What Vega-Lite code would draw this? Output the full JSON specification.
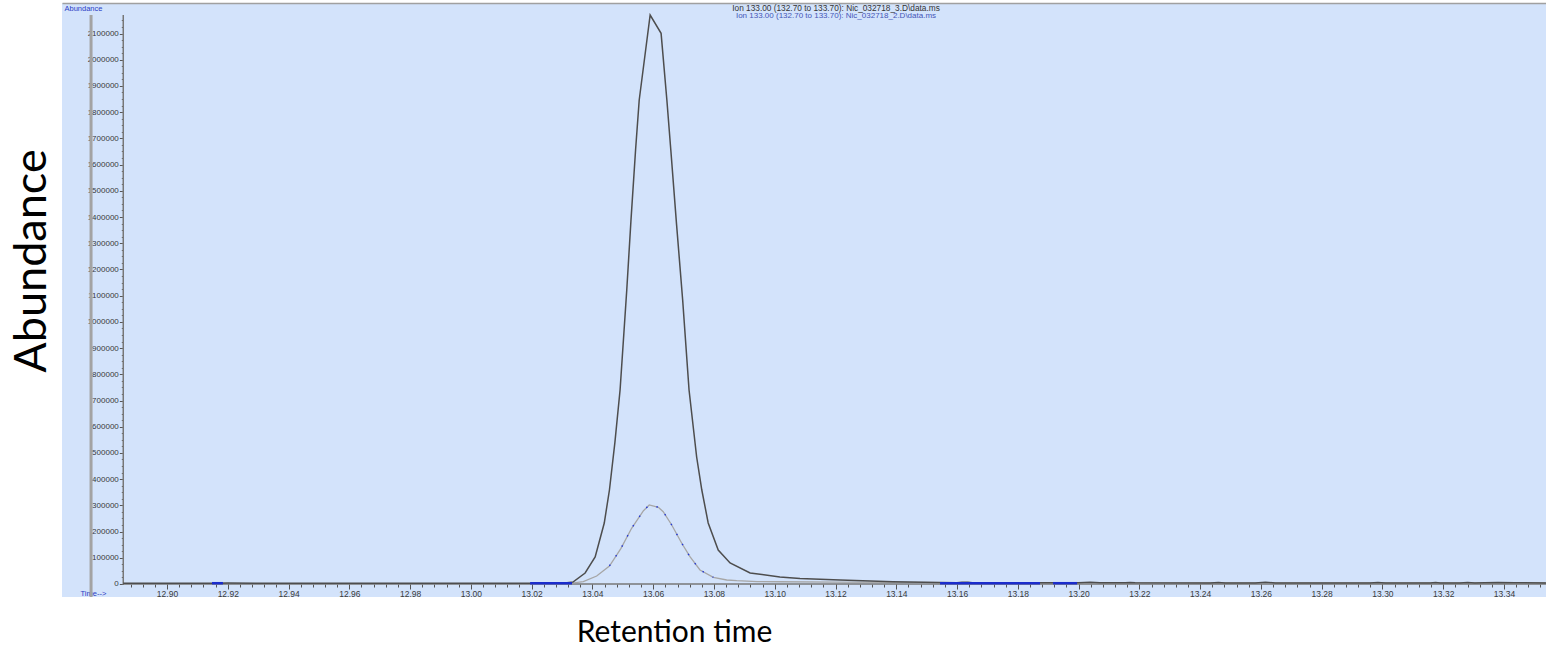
{
  "$schema": "https://vega.github.io/schema/vega-lite/v6.json",
  "width": 1484,
  "height": 594,
  "autosize": {"type": "none"},
  "padding": {"left": 62, "top": 3, "right": 0, "bottom": 57},
  "background": "#ffffff",
  "config": {"view": {"fill": "#D3E3FB", "stroke": null}},
  "title": {
    "text": "Ion 133.00 (132.70 to 133.70): Nic_032718_3.D\\data.ms",
    "subtitle": "Ion 133.00 (132.70 to 133.70): Nic_032718_2.D\\data.ms",
    "font": "Liberation Sans",
    "fontSize": 8.3,
    "fontWeight": "normal",
    "color": "#333333",
    "subtitleFont": "Liberation Sans",
    "subtitleFontSize": 8,
    "subtitleColor": "#4455b8",
    "subtitlePadding": 0,
    "anchor": "middle",
    "frame": "group",
    "dx": 32,
    "offset": -17
  },
  "datasets": {
    "main": [
      {"t": 12.8856, "v": 2500}, {"t": 12.9, "v": 2500}, {"t": 12.915, "v": 3000}, {"t": 12.92, "v": 3500},
      {"t": 12.93, "v": 2500}, {"t": 12.95, "v": 2500}, {"t": 12.97, "v": 2500}, {"t": 12.99, "v": 2500},
      {"t": 13.01, "v": 2500}, {"t": 13.025, "v": 3000}, {"t": 13.031, "v": 4000}, {"t": 13.0336, "v": 7600},
      {"t": 13.0376, "v": 42000}, {"t": 13.0409, "v": 103000}, {"t": 13.0439, "v": 232700}, {"t": 13.0456, "v": 358600},
      {"t": 13.0474, "v": 540000}, {"t": 13.0491, "v": 740000}, {"t": 13.0513, "v": 1121500}, {"t": 13.0527, "v": 1390000},
      {"t": 13.0542, "v": 1655600}, {"t": 13.0554, "v": 1846300}, {"t": 13.059, "v": 2170600}, {"t": 13.0626, "v": 2100700},
      {"t": 13.0645, "v": 1846300}, {"t": 13.0658, "v": 1655600}, {"t": 13.0677, "v": 1370000}, {"t": 13.0697, "v": 1083400},
      {"t": 13.0718, "v": 740000}, {"t": 13.0743, "v": 484500}, {"t": 13.076, "v": 358600}, {"t": 13.0781, "v": 232700},
      {"t": 13.0814, "v": 129700}, {"t": 13.0853, "v": 80100}, {"t": 13.0919, "v": 42000}, {"t": 13.1017, "v": 26700},
      {"t": 13.1083, "v": 21000}, {"t": 13.1215, "v": 15000}, {"t": 13.1389, "v": 9000}, {"t": 13.1544, "v": 6000},
      {"t": 13.16, "v": 5000}, {"t": 13.1616, "v": 7000}, {"t": 13.1636, "v": 7000}, {"t": 13.165, "v": 5000},
      {"t": 13.18, "v": 4500}, {"t": 13.2, "v": 4500}, {"t": 13.2038, "v": 6500}, {"t": 13.207, "v": 4500},
      {"t": 13.2153, "v": 4500}, {"t": 13.217, "v": 6000}, {"t": 13.2186, "v": 4500}, {"t": 13.2433, "v": 4000},
      {"t": 13.246, "v": 6000}, {"t": 13.2482, "v": 4000}, {"t": 13.2581, "v": 4000}, {"t": 13.2615, "v": 6500},
      {"t": 13.2647, "v": 4000}, {"t": 13.2959, "v": 4000}, {"t": 13.2985, "v": 6000}, {"t": 13.3009, "v": 4000},
      {"t": 13.3157, "v": 4000}, {"t": 13.3175, "v": 6000}, {"t": 13.319, "v": 4000}, {"t": 13.3255, "v": 4000},
      {"t": 13.328, "v": 6000}, {"t": 13.3304, "v": 4000}, {"t": 13.3337, "v": 5000}, {"t": 13.338, "v": 6000},
      {"t": 13.3436, "v": 5000}, {"t": 13.3538, "v": 4000}
    ],
    "second": [
      {"t": 13.02, "v": 2000}, {"t": 13.0326, "v": 2500}, {"t": 13.037, "v": 8800}, {"t": 13.0414, "v": 30500},
      {"t": 13.0456, "v": 68700}, {"t": 13.0494, "v": 136200}, {"t": 13.0529, "v": 212500}, {"t": 13.0568, "v": 279600},
      {"t": 13.0587, "v": 301400}, {"t": 13.0617, "v": 292600}, {"t": 13.0633, "v": 275800}, {"t": 13.0661, "v": 225100},
      {"t": 13.0694, "v": 155300}, {"t": 13.0721, "v": 104100}, {"t": 13.0754, "v": 53400}, {"t": 13.0798, "v": 25600},
      {"t": 13.0842, "v": 15300}, {"t": 13.0875, "v": 12600}, {"t": 13.0942, "v": 9000}, {"t": 13.1017, "v": 8500},
      {"t": 13.12, "v": 7000}, {"t": 13.1544, "v": 5500}, {"t": 13.2, "v": 4000}, {"t": 13.3538, "v": 4000}
    ],
    "frame": [
      {"x": 12.875, "x2": 12.875, "y": -49592, "y2": 2170600, "kind": "frame"},
      {"x": 12.8856, "x2": 12.8856, "y": 0, "y2": 2170600, "kind": "axis"},
      {"x": 12.8856, "x2": 13.35382, "y": 0, "y2": 0, "kind": "axis"}
    ],
    "blue": [
      {"t": 12.9148, "v": 3000, "seg": "a"}, {"t": 12.9184, "v": 3000, "seg": "a"},
      {"t": 13.0195, "v": 3000, "seg": "b"}, {"t": 13.0333, "v": 3000, "seg": "b"},
      {"t": 13.1544, "v": 3000, "seg": "c"}, {"t": 13.1873, "v": 3000, "seg": "c"},
      {"t": 13.1916, "v": 3000, "seg": "d"}, {"t": 13.1995, "v": 3000, "seg": "d"}
    ]
  },
  "resolve": {"axis": {"x": "independent", "y": "independent"}},
  "layer": [
    {
      "data": {"name": "frame"},
      "mark": {"type": "rule"},
      "encoding": {
        "x": {
          "field": "x", "type": "quantitative",
          "scale": {"domain": [12.86544, 13.35382], "nice": false, "zero": false},
          "axis": {
            "orient": "bottom", "offset": -13,
            "values": [12.9, 12.92, 12.94, 12.96, 12.98, 13.0, 13.02, 13.04, 13.06, 13.08, 13.1, 13.12, 13.14, 13.16, 13.18, 13.2, 13.22, 13.24, 13.26, 13.28, 13.3, 13.32, 13.34],
            "format": ".2f", "labelFont": "Liberation Sans", "labelFontSize": 8.5, "labelColor": "#3a3a3a",
            "labelFlush": false, "labelOverlap": false, "labelPadding": 0,
            "tickSize": 5, "tickColor": "#555555", "domain": false, "grid": false,
            "title": "Retention time", "titleFont": "Lato", "titleFontSize": 30, "titleFontWeight": "normal",
            "titleColor": "#000000", "titleX": 612, "titleY": 48, "titleAlign": "center", "titleBaseline": "middle"
          }
        },
        "x2": {"field": "x2"},
        "y": {
          "field": "y", "type": "quantitative",
          "scale": {"domain": [-49592, 2216375], "nice": false, "zero": false},
          "axis": {
            "orient": "left", "offset": -61.3,
            "values": [0, 100000, 200000, 300000, 400000, 500000, 600000, 700000, 800000, 900000, 1000000, 1100000, 1200000, 1300000, 1400000, 1500000, 1600000, 1700000, 1800000, 1900000, 2000000, 2100000],
            "format": "d", "labelFont": "Liberation Sans", "labelFontSize": 8, "labelColor": "#3a3a3a",
            "labelPadding": 1, "labelFlush": false, "labelOverlap": false,
            "tickSize": 4, "tickColor": "#555555", "domain": false, "grid": false,
            "title": "Abundance", "titleFont": "Lato", "titleFontSize": 45, "titleFontWeight": "normal",
            "titleColor": "#000000", "titleX": -92, "titleY": 257.5, "titleAngle": -90,
            "titleAlign": "center", "titleBaseline": "middle"
          }
        },
        "y2": {"field": "y2"},
        "color": {"field": "kind", "type": "nominal", "scale": {"domain": ["axis", "frame"], "range": ["#777777", "#a3a3a3"]}, "legend": null},
        "strokeWidth": {"field": "kind", "type": "nominal", "scale": {"domain": ["axis", "frame"], "range": [1.5, 3]}, "legend": null}
      }
    },
    {
      "data": {"name": "second"},
      "mark": {"type": "line", "color": "#a6a6a6", "strokeWidth": 1.3},
      "encoding": {
        "x": {
          "field": "t", "type": "quantitative",
          "scale": {"domain": [12.86544, 13.35382], "nice": false, "zero": false},
          "axis": {
            "orient": "top", "labels": false, "ticks": false, "domain": true,
            "domainColor": "#a0a0a0", "domainWidth": 1.5, "grid": false,
            "title": "Abundance", "titleX": 2, "titleY": 5, "titleAlign": "left", "titleBaseline": "middle",
            "titleAngle": 0, "titleFont": "Liberation Sans", "titleFontSize": 7.5, "titleFontWeight": "normal",
            "titleColor": "#2b3cc4"
          }
        },
        "y": {"field": "v", "type": "quantitative", "scale": {"domain": [-49592, 2216375], "nice": false, "zero": false}, "axis": null}
      }
    },
    {
      "data": {"name": "main"},
      "mark": {"type": "line", "color": "#4d4d4d", "strokeWidth": 1.5},
      "encoding": {
        "x": {
          "field": "t", "type": "quantitative",
          "scale": {"domain": [12.86544, 13.35382], "nice": false, "zero": false},
          "axis": {
            "orient": "bottom", "offset": -13,
            "values": [12.888,12.892,12.896,12.9,12.904,12.908,12.912,12.916,12.92,12.924,12.928,12.932,12.936,12.94,12.944,12.948,12.952,12.956,12.96,12.964,12.968,12.972,12.976,12.98,12.984,12.988,12.992,12.996,13.0,13.004,13.008,13.012,13.016,13.02,13.024,13.028,13.032,13.036,13.04,13.044,13.048,13.052,13.056,13.06,13.064,13.068,13.072,13.076,13.08,13.084,13.088,13.092,13.096,13.1,13.104,13.108,13.112,13.116,13.12,13.124,13.128,13.132,13.136,13.14,13.144,13.148,13.152,13.156,13.16,13.164,13.168,13.172,13.176,13.18,13.184,13.188,13.192,13.196,13.2,13.204,13.208,13.212,13.216,13.22,13.224,13.228,13.232,13.236,13.24,13.244,13.248,13.252,13.256,13.26,13.264,13.268,13.272,13.276,13.28,13.284,13.288,13.292,13.296,13.3,13.304,13.308,13.312,13.316,13.32,13.324,13.328,13.332,13.336,13.34,13.344,13.348,13.352],
            "labels": false, "tickSize": 3, "tickColor": "#555555", "domain": false, "grid": false, "title": null
          }
        },
        "y": {
          "field": "v", "type": "quantitative",
          "scale": {"domain": [-49592, 2216375], "nice": false, "zero": false},
          "axis": {
            "orient": "left", "offset": -61.3,
            "values": [0,25000,50000,75000,100000,125000,150000,175000,200000,225000,250000,275000,300000,325000,350000,375000,400000,425000,450000,475000,500000,525000,550000,575000,600000,625000,650000,675000,700000,725000,750000,775000,800000,825000,850000,875000,900000,925000,950000,975000,1000000,1025000,1050000,1075000,1100000,1125000,1150000,1175000,1200000,1225000,1250000,1275000,1300000,1325000,1350000,1375000,1400000,1425000,1450000,1475000,1500000,1525000,1550000,1575000,1600000,1625000,1650000,1675000,1700000,1725000,1750000,1775000,1800000,1825000,1850000,1875000,1900000,1925000,1950000,1975000,2000000,2025000,2050000,2075000,2100000,2125000,2150000],
            "labels": false, "tickSize": 2, "tickColor": "#666666", "domain": false, "grid": false,
            "title": "Time-->", "titleX": -43.3, "titleY": 590, "titleAngle": 0, "titleAlign": "left",
            "titleBaseline": "middle", "titleFont": "Liberation Sans", "titleFontSize": 7.5,
            "titleFontWeight": "normal", "titleColor": "#2b3cc4"
          }
        }
      }
    },
    {
      "data": {"name": "second"},
      "transform": [{"filter": "datum.t >= 13.044 && datum.t <= 13.08"}],
      "mark": {"type": "line", "color": "#2236d6", "strokeWidth": 1.4, "strokeDash": [1.5, 10]},
      "encoding": {
        "x": {"field": "t", "type": "quantitative", "scale": {"domain": [12.86544, 13.35382], "nice": false, "zero": false}, "axis": null},
        "y": {"field": "v", "type": "quantitative", "scale": {"domain": [-49592, 2216375], "nice": false, "zero": false}, "axis": null}
      }
    },
    {
      "data": {"name": "blue"},
      "mark": {"type": "line", "color": "#1a2ccc", "strokeWidth": 2.5},
      "encoding": {
        "x": {"field": "t", "type": "quantitative", "scale": {"domain": [12.86544, 13.35382], "nice": false, "zero": false}, "axis": null},
        "y": {"field": "v", "type": "quantitative", "scale": {"domain": [-49592, 2216375], "nice": false, "zero": false}, "axis": null},
        "detail": {"field": "seg", "type": "nominal"}
      }
    }
  ]
}
